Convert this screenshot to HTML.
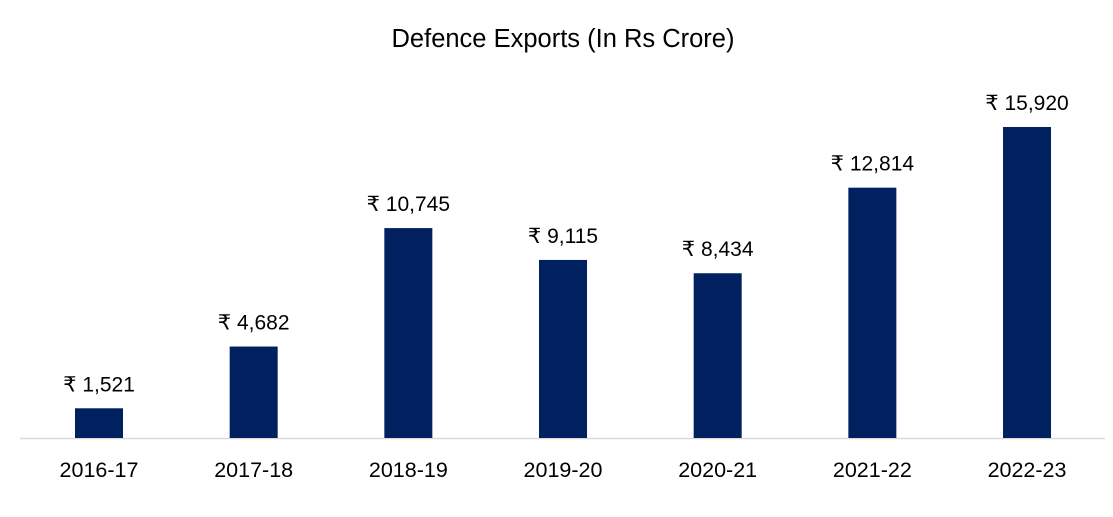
<!DOCTYPE html>
<html>
<head>
<meta charset="utf-8">
<style>
  html,body{margin:0;padding:0;background:#fff;}
  body{width:1113px;height:512px;overflow:hidden;}
  svg text{font-family:"Liberation Sans","DejaVu Sans",sans-serif;fill:#000;}
</style>
</head>
<body>
<svg id="chart" width="1113" height="512" viewBox="0 0 1113 512" xmlns="http://www.w3.org/2000/svg">
  <rect x="0" y="0" width="1113" height="512" fill="#fff"/>
  <text x="563" y="47" text-anchor="middle" font-size="25.5">Defence Exports (In Rs Crore)</text>
  <line x1="20" y1="438.5" x2="1105" y2="438.5" stroke="#d9d9d9" stroke-width="1.5"/>
  <g id="bars"></g>
</svg>
<script>
const categories = ["2016-17","2017-18","2018-19","2019-20","2020-21","2021-22","2022-23"];
const values = [1521, 4682, 10745, 9115, 8434, 12814, 15920];
const valueLabels = ["₹ 1,521","₹ 4,682","₹ 10,745","₹ 9,115","₹ 8,434","₹ 12,814","₹ 15,920"];

const baseY = 438;
const pxPerUnit = 311 / 15920;
const firstCenter = 99, step = 154.67, barW = 48;
function xScale(i){ return firstCenter + i * step; }
function yScale(v){ return baseY - v * pxPerUnit; }

const ns = "http://www.w3.org/2000/svg";
const g = document.getElementById("bars");
categories.forEach((c, i) => {
  const cx = xScale(i);
  const top = yScale(values[i]);
  const r = document.createElementNS(ns, "rect");
  
  
  r.setAttribute("x", cx - barW/2);
  r.setAttribute("y", top);
  r.setAttribute("width", barW);
  r.setAttribute("height", baseY - top);
  r.setAttribute("fill", "#002060");
  g.appendChild(r);

  const vl = document.createElementNS(ns, "text");
  
  
  vl.setAttribute("x", cx);
  vl.setAttribute("y", top - 17);
  vl.setAttribute("text-anchor", "middle");
  vl.setAttribute("font-size", "21");
  vl.textContent = valueLabels[i];
  g.appendChild(vl);

  const cl = document.createElementNS(ns, "text");
  
  
  cl.setAttribute("x", cx);
  cl.setAttribute("y", 477);
  cl.setAttribute("text-anchor", "middle");
  cl.setAttribute("font-size", "21.5");
  cl.textContent = c;
  g.appendChild(cl);
});
</script>
</body>
</html>
